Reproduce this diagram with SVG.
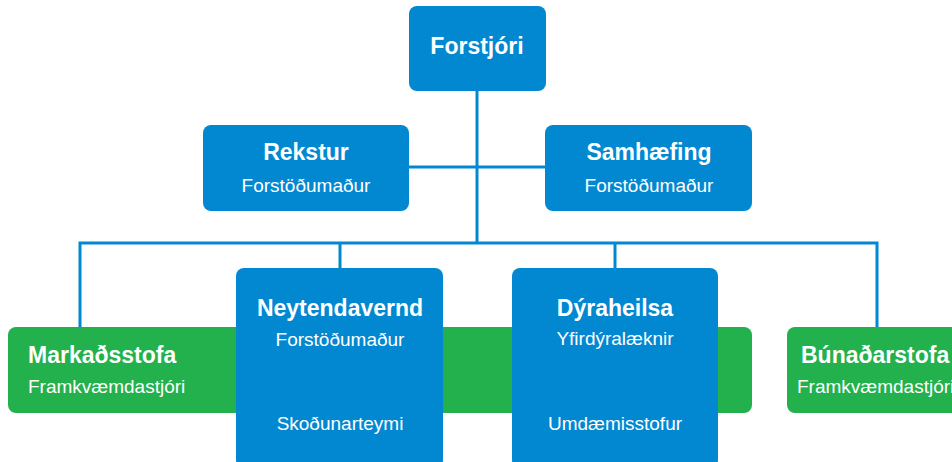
<svg xmlns="http://www.w3.org/2000/svg" width="952" height="462" viewBox="0 0 952 462">
<style>
.blue{fill:#0288d1}
.green{fill:#22b14c}
.t{font-family:"Liberation Sans",Arial,sans-serif;fill:#ffffff}
.b{font-weight:bold;font-size:23px}
.r{font-size:19px}
.c{text-anchor:middle}
.ln{stroke:#0288d1;stroke-width:3;fill:none}
</style>
<rect width="952" height="462" fill="#ffffff"/>
<g id="connectors">
<line class="ln" x1="477" y1="90" x2="477" y2="243"/>
<line class="ln" x1="409" y1="167" x2="545" y2="167"/>
<polyline class="ln" points="80,328 80,243 877,243 877,328"/>
<line class="ln" x1="340" y1="243" x2="340" y2="269"/>
<line class="ln" x1="615" y1="243" x2="615" y2="269"/>
</g>
<g id="markadsstofa">
<rect class="green" x="8" y="327" width="744" height="86" rx="8"/>
<text class="t b" x="28" y="363">Markaðsstofa</text>
<text class="t r" x="28" y="393">Framkvæmdastjóri</text>
</g>
<g id="bunadarstofa">
<rect class="green" x="787" y="327" width="180" height="86" rx="8"/>
<text class="t b" x="801" y="363">Búnaðarstofa</text>
<text class="t r" x="797" y="393">Framkvæmdastjóri</text>
</g>
<g id="forstjori">
<rect class="blue" x="409" y="6" width="137" height="85" rx="8"/>
<text class="t b c" x="477" y="54">Forstjóri</text>
</g>
<g id="rekstur">
<rect class="blue" x="203" y="125" width="206" height="86" rx="8"/>
<text class="t b c" x="306" y="160">Rekstur</text>
<text class="t r c" x="306" y="192">Forstöðumaður</text>
</g>
<g id="samhaefing">
<rect class="blue" x="545" y="125" width="207" height="86" rx="8"/>
<text class="t b c" x="649" y="160">Samhæfing</text>
<text class="t r c" x="649" y="192">Forstöðumaður</text>
</g>
<g id="neytendavernd">
<rect class="blue" x="236" y="268" width="207" height="200" rx="8"/>
<text class="t b c" x="340" y="316">Neytendavernd</text>
<text class="t r c" x="340" y="346">Forstöðumaður</text>
<text class="t r c" x="340" y="430">Skoðunarteymi</text>
</g>
<g id="dyraheilsa">
<rect class="blue" x="512" y="268" width="206" height="200" rx="8"/>
<text class="t b c" x="615" y="316">Dýraheilsa</text>
<text class="t r c" x="615" y="345">Yfirdýralæknir</text>
<text class="t r c" x="615" y="430">Umdæmisstofur</text>
</g>
</svg>
